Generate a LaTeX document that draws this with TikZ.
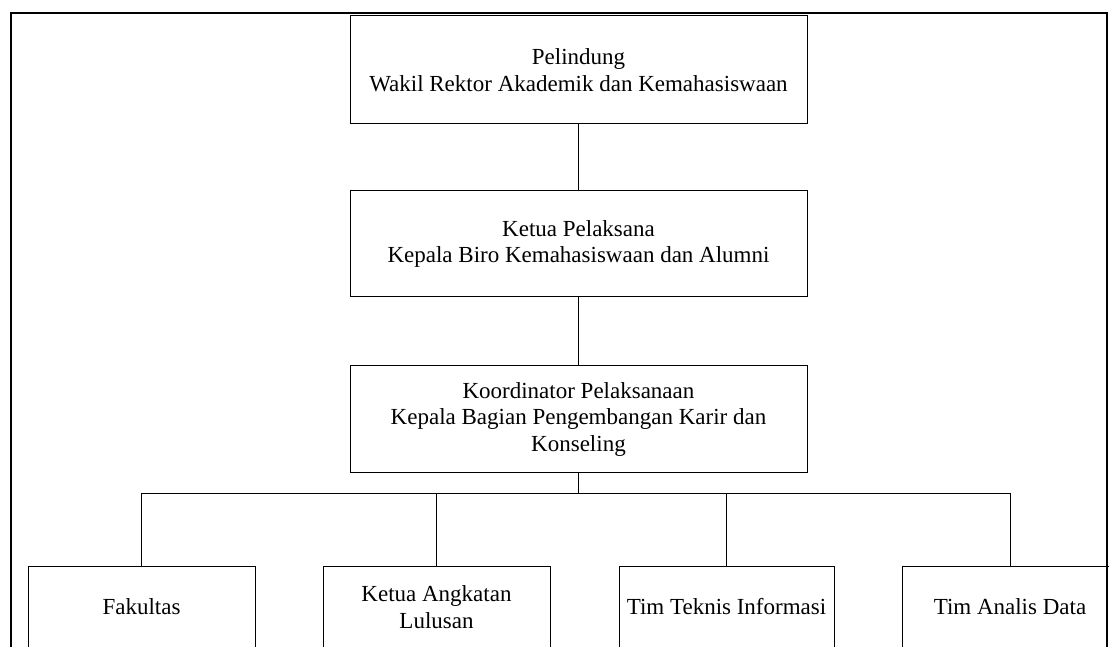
\documentclass[tikz,border=0pt]{standalone}
\usepackage{fontspec}
\setmainfont{Liberation Serif}
\usepackage{tikz}

\begin{document}
\begin{tikzpicture}[x=1pt, y=1pt,
    kotak/.style={draw, line width=1pt, inner sep=0pt, align=center,
        font=\fontsize{23}{26.6}\selectfont}]
    \useasboundingbox (0,0) rectangle (1109,646);
    \clip (0,0) rectangle (1109,646);

    % bingkai luar
    \draw[line width=1.6pt] (11,-10) -- (11,633) -- (1107,633) -- (1107,-10);

    \node[kotak, minimum width=457pt, minimum height=108pt] (pel) at (578.5, 576) {Pelindung\\Wakil Rektor Akademik dan Kemahasiswaan};
    \node[kotak, minimum width=457pt, minimum height=106pt] (ket) at (578.5, 402) {Ketua Pelaksana\\Kepala Biro Kemahasiswaan dan Alumni};
    \node[kotak, minimum width=457pt, minimum height=107pt] (koo) at (578.5, 226.5) {Koordinator Pelaksanaan\\Kepala Bagian Pengembangan Karir dan\\Konseling};

    \node[kotak, minimum width=227pt, minimum height=82pt] (fak) at (141.5, 39) {Fakultas};
    \node[kotak, minimum width=227pt, minimum height=82pt] (ang) at (436.5, 39) {Ketua Angkatan\\Lulusan};
    \node[kotak, minimum width=215pt, minimum height=82pt] (tek) at (726.5, 39) {Tim Teknis Informasi};
    \node[kotak, minimum width=216pt, minimum height=82pt] (ana) at (1010, 39) {Tim Analis Data};

    \coordinate (bus) at (578.5, 153);

    \draw[line width=1pt] (pel) -- (ket);
    \draw[line width=1pt] (ket) -- (koo);
    \draw[line width=1pt] (koo) -- (bus);
    \draw[line width=1pt] (fak.north) |- (bus);
    \draw[line width=1pt] (ang.north) |- (bus);
    \draw[line width=1pt] (tek.north) |- (bus);
    \draw[line width=1pt] (ana.north) |- (bus);
\end{tikzpicture}
\end{document}
